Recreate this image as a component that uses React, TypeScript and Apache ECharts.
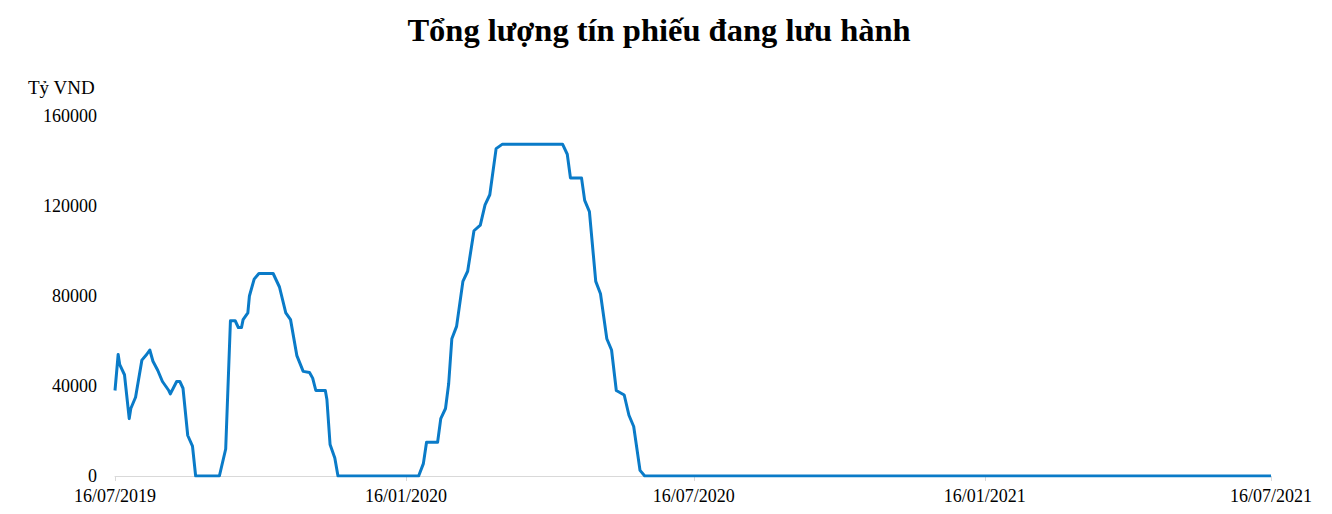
import React, { useEffect, useRef } from "react";
import * as echarts from "echarts";

const dates: string[] = [
  "2019-07-16", "2019-07-18", "2019-07-19", "2019-07-22", "2019-07-25", "2019-07-26", "2019-07-29",
  "2019-08-02", "2019-08-05", "2019-08-07", "2019-08-09", "2019-08-12", "2019-08-15", "2019-08-19",
  "2019-08-20", "2019-08-24", "2019-08-26", "2019-08-28", "2019-08-31", "2019-09-03", "2019-09-05",
  "2019-09-20", "2019-09-24", "2019-09-27", "2019-09-30", "2019-10-02", "2019-10-04", "2019-10-05",
  "2019-10-08", "2019-10-09", "2019-10-12", "2019-10-15", "2019-10-24", "2019-10-26", "2019-10-28",
  "2019-11-01", "2019-11-04", "2019-11-08", "2019-11-12", "2019-11-16", "2019-11-18", "2019-11-20",
  "2019-11-26", "2019-11-27", "2019-11-29", "2019-12-02", "2019-12-04",
  "2020-01-24", "2020-01-27", "2020-01-29", "2020-02-05", "2020-02-07", "2020-02-10", "2020-02-12",
  "2020-02-14", "2020-02-17", "2020-02-21", "2020-02-24", "2020-02-28", "2020-03-03", "2020-03-06",
  "2020-03-09", "2020-03-13", "2020-03-17", "2020-04-24", "2020-04-27", "2020-04-29", "2020-05-06",
  "2020-05-08", "2020-05-11", "2020-05-15", "2020-05-18", "2020-05-22", "2020-05-25", "2020-05-28",
  "2020-06-02", "2020-06-05", "2020-06-08", "2020-06-12", "2020-06-15", "2021-07-16",
];

const values: number[] = [
  38000, 54000, 49500, 45000, 25500, 30000, 35000,
  51500, 54000, 56000, 51000, 47000, 42000, 38000,
  36500, 42000, 42000, 39000, 18000, 13300, 0,
  0, 12000, 69000, 69000, 66000, 66000, 69500,
  72500, 80000, 87500, 90000, 90000, 87000, 84000,
  72500, 69500, 53500, 46500, 46000, 43500, 38000,
  38000, 34000, 14000, 8000, 0,
  0, 5500, 15000, 15000, 25500, 30000, 41000,
  61000, 66500, 86500, 91000, 109000, 111500, 120500,
  125000, 145500, 147500, 147500, 143000, 132500, 132500,
  122500, 117500, 86500, 81000, 61000, 56000, 38000,
  36000, 27000, 22000, 2500, 0, 0,
];

const xTickDates: string[] = ["2019-07-16", "2020-01-16", "2020-07-16", "2021-01-16", "2021-07-16"];
const yTicks: number[] = [0, 40000, 80000, 120000, 160000];

const title = "Tổng lượng tín phiếu đang lưu hành";
const unitLabel = "Tỷ VND";

function toTs(d: string): number {
  const [y, m, day] = d.split("-").map(Number);
  return Date.UTC(y, m - 1, day);
}

function fmt(ts: number): string {
  const d = new Date(ts);
  const dd = String(d.getUTCDate()).padStart(2, "0");
  const mm = String(d.getUTCMonth() + 1).padStart(2, "0");
  return `${dd}/${mm}/${d.getUTCFullYear()}`;
}

export default function App() {
  const ref = useRef<HTMLDivElement>(null);
  useEffect(() => {
    if (!ref.current) return;
    const chart = echarts.init(ref.current, null, { renderer: "svg" });
    const xTicks = xTickDates.map(toTs);
    const font = "'Liberation Serif', 'Times New Roman', serif";
    chart.setOption({
      animation: false,
      textStyle: { fontFamily: font },
      title: {
        text: title,
        top: 0,
        left: 646,
        textAlign: "center",
        textStyle: { fontFamily: font, fontSize: 32.5, fontWeight: "bold", color: "#000" },
      },
      graphic: [
        {
          type: "text",
          left: 20,
          top: 70,
          style: { text: unitLabel, font: `19px ${font}`, fill: "#000" },
        },
      ],
      grid: { left: 107, right: 53, top: 108, bottom: 30, containLabel: false },
      xAxis: {
        type: "value",
        min: xTicks[0],
        max: xTicks[xTicks.length - 1],
        splitLine: { show: false },
        axisLine: { show: true, lineStyle: { color: "#d9d9d9", width: 1 } },
        axisTick: { show: true, customValues: xTicks, length: 5, lineStyle: { color: "#d9d9d9" } },
        axisLabel: {
          customValues: xTicks,
          formatter: (v: number) => fmt(v),
          color: "#000",
          fontSize: 18,
          fontFamily: font,
          margin: 11,
          showMinLabel: true,
          showMaxLabel: true,
        },
      },
      yAxis: {
        type: "value",
        min: yTicks[0],
        max: yTicks[yTicks.length - 1],
        interval: 40000,
        splitLine: { show: false },
        axisLine: { show: false },
        axisTick: { show: false },
        axisLabel: {
          color: "#000",
          fontSize: 18,
          fontFamily: font,
          margin: 18,
          formatter: (v: number) => String(v),
        },
      },
      series: [
        {
          type: "line",
          data: dates.map((d, i) => [toTs(d), values[i]]),
          showSymbol: false,
          symbol: "none",
          lineStyle: { color: "#0a7bc8", width: 3, join: "round" },
        },
      ],
    });
    return () => chart.dispose();
  }, []);
  return <div ref={ref} style={{ width: 1316, height: 498 }} />;
}
